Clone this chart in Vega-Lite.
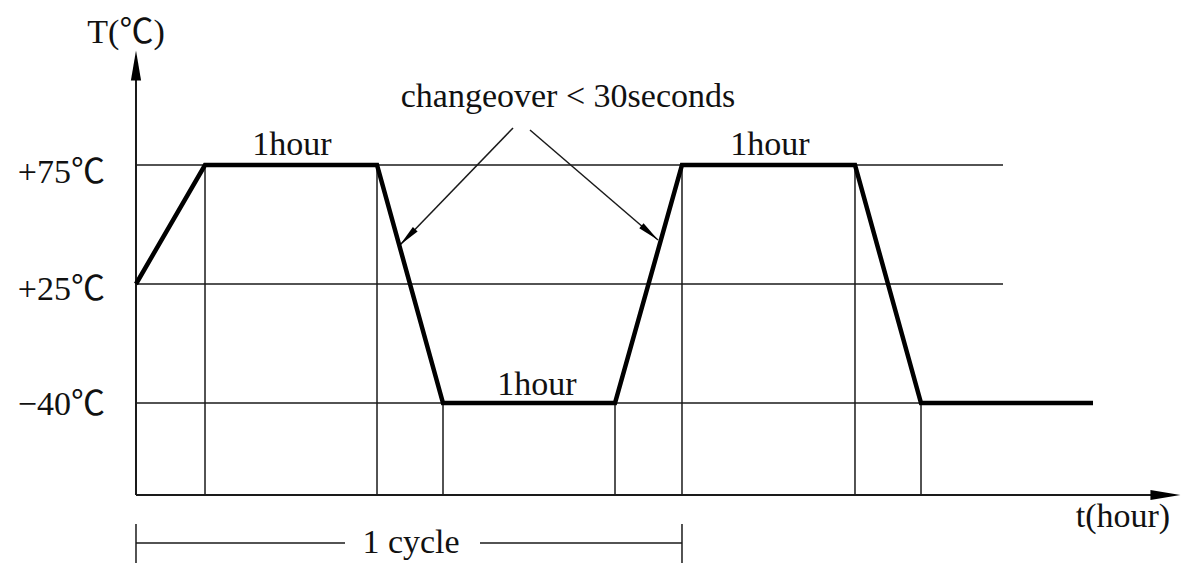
{
  "$schema": "https://vega.github.io/schema/vega-lite/v6.json",
  "width": 1195,
  "height": 567,
  "autosize": {"type": "fit", "contains": "padding"},
  "padding": 0,
  "background": "white",
  "config": {"view": {"stroke": null}},
  "datasets": {
    "profile": [
      {"t": 0, "lvl": 1},
      {"t": 0.4012, "lvl": 2},
      {"t": 1.4012, "lvl": 2},
      {"t": 1.7849, "lvl": 0},
      {"t": 2.7849, "lvl": 0},
      {"t": 3.1744, "lvl": 2},
      {"t": 4.1802, "lvl": 2},
      {"t": 4.5640, "lvl": 0},
      {"t": 5.5640, "lvl": 0}
    ],
    "thin": [
      {"t": 0, "lvl": 2, "t2": 5.0407, "lvl2": 2},
      {"t": 0, "lvl": 1, "t2": 5.0407, "lvl2": 1},
      {"t": 0, "lvl": 0, "t2": 5.0407, "lvl2": 0},
      {"t": 0.4012, "lvl": 2, "t2": 0.4012, "lvl2": -0.7731},
      {"t": 1.4012, "lvl": 2, "t2": 1.4012, "lvl2": -0.7731},
      {"t": 1.7849, "lvl": 0, "t2": 1.7849, "lvl2": -0.7731},
      {"t": 2.7849, "lvl": 0, "t2": 2.7849, "lvl2": -0.7731},
      {"t": 3.1744, "lvl": 2, "t2": 3.1744, "lvl2": -0.7731},
      {"t": 4.1802, "lvl": 2, "t2": 4.1802, "lvl2": -0.7731},
      {"t": 4.5640, "lvl": 0, "t2": 4.5640, "lvl2": -0.7731},
      {"t": 0, "lvl": -1.1765, "t2": 1.2151, "lvl2": -1.1765},
      {"t": 2.0, "lvl": -1.1765, "t2": 3.1744, "lvl2": -1.1765},
      {"t": 0, "lvl": -1.0168, "t2": 0, "lvl2": -1.3445},
      {"t": 3.1744, "lvl": -1.0168, "t2": 3.1744, "lvl2": -1.3445},
      {"t": 2.1919, "lvl": 2.3109, "t2": 1.5349, "lvl2": 1.3277},
      {"t": 2.2907, "lvl": 2.2941, "t2": 3.0349, "lvl2": 1.3697}
    ],
    "axes": [
      {"t": 0, "lvl": -0.7731, "t2": 0, "lvl2": 2.8},
      {"t": 0, "lvl": -0.7731, "t2": 5.95, "lvl2": -0.7731}
    ],
    "bigheads": [
      {"t": 0, "lvl": 2.836, "dir": 0},
      {"t": 5.985, "lvl": -0.7731, "dir": 90}
    ],
    "smallheads": [
      {"t": 1.579, "lvl": 1.394, "dir": 224},
      {"t": 2.987, "lvl": 1.430, "dir": 130.6}
    ],
    "ylabels": [
      {"t": -0.18, "lvl": 1.8487, "label": "+75℃"},
      {"t": -0.18, "lvl": 0.8655, "label": "+25℃"},
      {"t": -0.18, "lvl": -0.1008, "label": "−40℃"}
    ],
    "texts": [
      {"t": -0.058, "lvl": 3.0252, "label": "T(℃)"},
      {"t": 2.5116, "lvl": 2.4874, "label": "changeover < 30seconds"},
      {"t": 0.907, "lvl": 2.084, "label": "1hour"},
      {"t": 2.331, "lvl": 0.0672, "label": "1hour"},
      {"t": 3.686, "lvl": 2.084, "label": "1hour"},
      {"t": 5.738, "lvl": -1.042, "label": "t(hour)"},
      {"t": 1.599, "lvl": -1.2605, "label": "1 cycle"}
    ]
  },
  "encoding": {
    "x": {"field": "t", "type": "quantitative", "scale": {"domain": [-0.7907, 6.157], "nice": false, "zero": false}, "axis": null},
    "y": {"field": "lvl", "type": "quantitative", "scale": {"domain": [-1.3782, 3.3866], "nice": false, "zero": false}, "axis": null}
  },
  "layer": [
    {
      "data": {"name": "thin"},
      "mark": {"type": "rule", "stroke": "#1a1a1a", "strokeWidth": 1.5},
      "encoding": {"x2": {"field": "t2"}, "y2": {"field": "lvl2"}}
    },
    {
      "data": {"name": "axes"},
      "mark": {"type": "rule", "stroke": "#1a1a1a", "strokeWidth": 2},
      "encoding": {"x2": {"field": "t2"}, "y2": {"field": "lvl2"}}
    },
    {
      "data": {"name": "profile"},
      "mark": {"type": "line", "stroke": "#000", "strokeWidth": 4.5, "strokeJoin": "miter", "strokeCap": "butt"},
      "encoding": {"order": {"field": "t", "type": "quantitative"}}
    },
    {
      "data": {"name": "bigheads"},
      "mark": {"type": "point", "shape": "M0,-1L0.34,1L-0.34,1Z", "filled": true, "fill": "#000", "stroke": null, "size": 900, "opacity": 1},
      "encoding": {"angle": {"field": "dir", "type": "quantitative", "scale": null}}
    },
    {
      "data": {"name": "smallheads"},
      "mark": {"type": "point", "shape": "M0,-1L0.3,1L-0.3,1Z", "filled": true, "fill": "#000", "stroke": null, "size": 484, "opacity": 1},
      "encoding": {"angle": {"field": "dir", "type": "quantitative", "scale": null}}
    },
    {
      "data": {"name": "ylabels"},
      "mark": {"type": "text", "align": "right", "baseline": "alphabetic", "font": "Liberation Serif, Noto Sans CJK SC", "fontSize": 34, "fill": "#111"},
      "encoding": {"text": {"field": "label"}}
    },
    {
      "data": {"name": "texts"},
      "mark": {"type": "text", "align": "center", "baseline": "alphabetic", "font": "Liberation Serif, Noto Sans CJK SC", "fontSize": 34, "fill": "#111"},
      "encoding": {"text": {"field": "label"}}
    }
  ]
}
